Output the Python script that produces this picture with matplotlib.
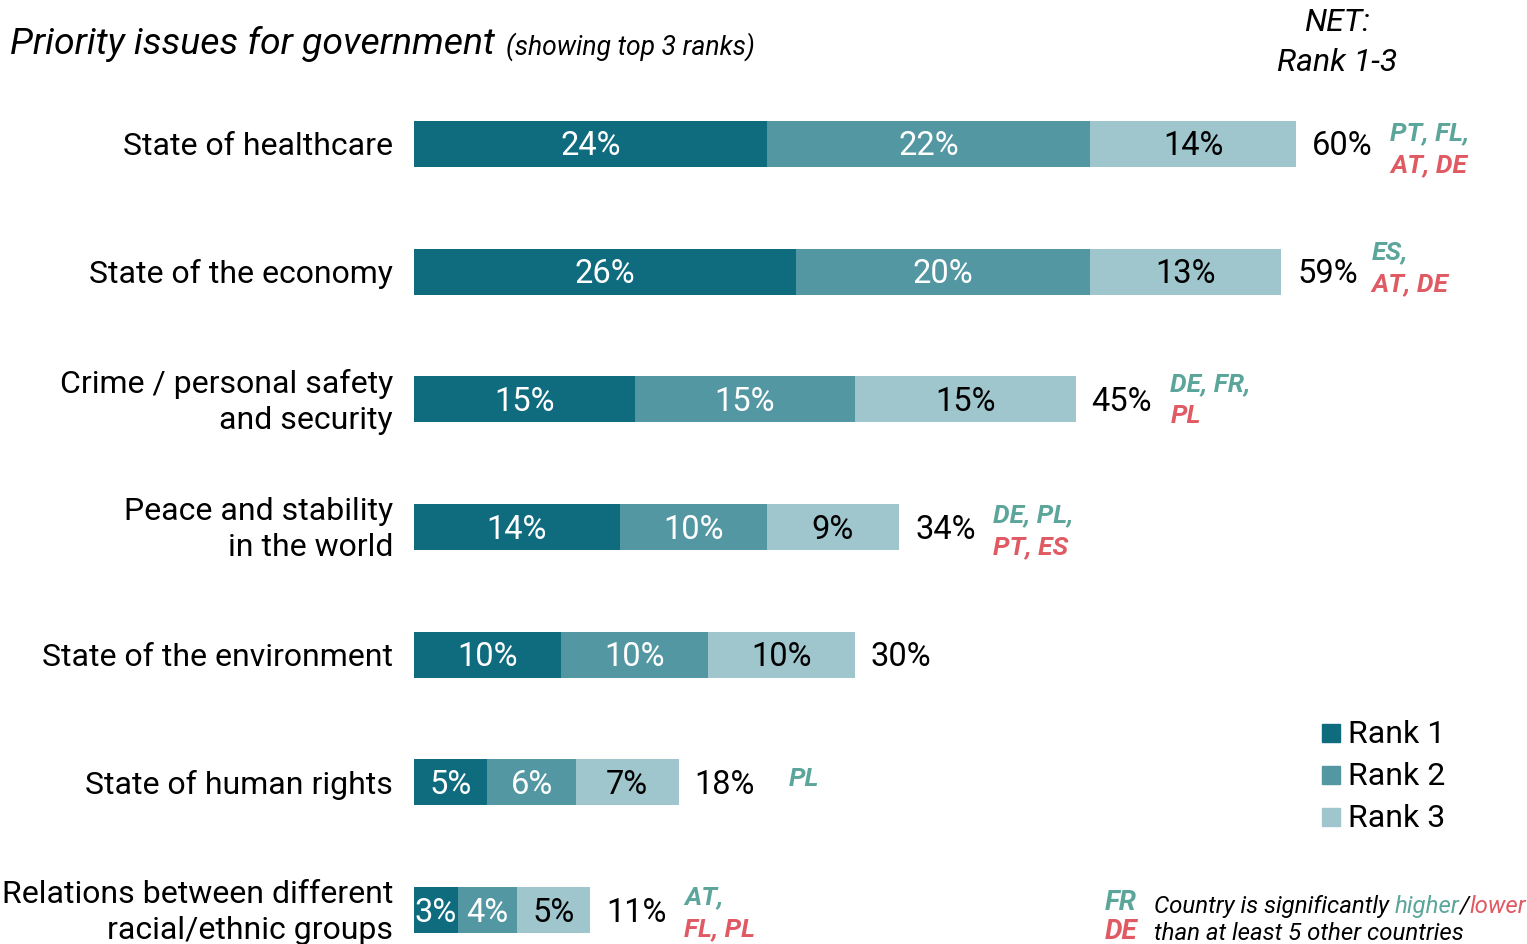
import matplotlib
matplotlib.use("Agg")
import matplotlib.pyplot as plt
from matplotlib.patches import Rectangle

categories = [
    "State of healthcare",
    "State of the economy",
    "Crime / personal safety\nand security",
    "Peace and stability\nin the world",
    "State of the environment",
    "State of human rights",
    "Relations between different\nracial/ethnic groups",
]
rank1 = [24, 26, 15, 14, 10, 5, 3]
rank2 = [22, 20, 15, 10, 10, 6, 4]
rank3 = [14, 13, 15, 9, 10, 7, 5]
net = [60, 59, 45, 34, 30, 18, 11]
higher = ["PT, FL,", "ES,", "DE, FR,", "DE, PL,", "", "PL", "AT,"]
lower = ["AT, DE", "AT, DE", "PL", "PT, ES", "", "", "FL, PL"]
series_names = ["Rank 1", "Rank 2", "Rank 3"]

# layout tweaks for the significance notes (pixels): vertical shift of first line, x gap
NOTE_DY = [-13, -22, -18, -14, 0, -6, -15]
NOTE_DX = [94, 90, 95, 94, 94, 110, 94]

C1, C2, C3 = "#0f6b7e", "#5397a3", "#9fc5cd"
GREEN, RED = "#5ba59a", "#e05a63"
FONT = "Roboto"

W, H = 1527, 944
YOFF = 2.5
fig = plt.figure(figsize=(W / 100, H / 100), dpi=100)
ax = fig.add_axes([0, 0, 1, 1])
ax.axis("off")

PX = 14.7          # pixels per percent
X0 = 414           # pixel of 0%
ROW0, ROWSTEP = 144, 127.67
ax.set_xlim(-X0 / PX, (W - X0) / PX)
ax.set_ylim((H - ROW0) / ROWSTEP, -ROW0 / ROWSTEP)

def px2x(p):
    return (p - X0) / PX

ty = YOFF / ROWSTEP
ys = list(range(len(categories)))
bh = 46 / ROWSTEP
lefts = [0] * len(ys)
for vals, col, tcol in [(rank1, C1, "white"), (rank2, C2, "white"), (rank3, C3, "black")]:
    ax.barh(ys, vals, left=lefts, height=bh, color=col, edgecolor="none")
    for y, l, v in zip(ys, lefts, vals):
        ax.text(l + v / 2, y + ty, f"{v}%", ha="center", va="center", color=tcol,
                fontsize=23.5, family=FONT)
    lefts = [l + v for l, v in zip(lefts, vals)]

for i, (y, end, n, hi, lo, cat) in enumerate(zip(ys, lefts, net, higher, lower, categories)):
    ax.text(end + 16 / PX, y + ty, f"{n}%", ha="left", va="center", fontsize=23.5,
            family=FONT, color="black")
    ax.text(px2x(393), y + ty, cat, ha="right", va="center", fontsize=23,
            family=FONT, color="black", linespacing=1.29)
    dx = NOTE_DX[i] / PX
    dy = NOTE_DY[i] / ROWSTEP
    if hi:
        ax.text(end + dx, y + dy + ty, hi, ha="left", va="center", fontsize=19,
                family=FONT, style="italic", weight="bold", color=GREEN)
    if lo:
        ax.text(end + dx, y + dy + 32 / ROWSTEP + ty, lo, ha="left", va="center",
                fontsize=19, family=FONT, style="italic", weight="bold", color=RED)

fig.canvas.draw()
r = fig.canvas.get_renderer()

def fit(txt, width_px):
    w = txt.get_window_extent(r).width
    txt.set_fontsize(txt.get_fontsize() * width_px / w)

def fy(p):
    return 1 - (p + YOFF) / H

# Title
tt = fig.text(10 / W, fy(41), "Priority issues for government", ha="left", va="center",
              fontsize=25, family=FONT, style="italic")
fit(tt, 485)
ts = fig.text(506 / W, fy(44), "(showing top 3 ranks)", ha="left", va="center",
              fontsize=18, family=FONT, style="italic")
fit(ts, 249)

# NET header
fig.text(1337 / W, fy(20), "NET:", ha="center", va="center", fontsize=23,
         family=FONT, style="italic")
fig.text(1337 / W, fy(60), "Rank 1-3", ha="center", va="center", fontsize=23,
         family=FONT, style="italic")

# Legend
for i, (name, col) in enumerate(zip(series_names, [C1, C2, C3])):
    yc = 733 + i * 42
    fig.patches.append(Rectangle((1322 / W, 1 - (yc + 9) / H), 18 / W, 18 / H,
                                 transform=fig.transFigure, color=col))
    fig.text(1348 / W, fy(yc - 1), name, ha="left", va="center", fontsize=23, family=FONT)

# Footnote
fig.text(1105 / W, fy(900), "FR", ha="left", va="center", fontsize=20,
         family=FONT, style="italic", weight="bold", color=GREEN)
fig.text(1105 / W, fy(929), "DE", ha="left", va="center", fontsize=20,
         family=FONT, style="italic", weight="bold", color=RED)
t1 = fig.text(1154 / W, fy(904), "Country is significantly ", ha="left", va="center",
              fontsize=17.3, family=FONT, style="italic")
bb = t1.get_window_extent(r)
t2 = fig.text(bb.x1 / W, fy(904), "higher", ha="left", va="center", fontsize=17.3,
              family=FONT, style="italic", color=GREEN)
bb = t2.get_window_extent(r)
t3 = fig.text(bb.x1 / W, fy(904), "/", ha="left", va="center", fontsize=17.3,
              family=FONT, style="italic")
bb = t3.get_window_extent(r)
fig.text(bb.x1 / W, fy(904), "lower", ha="left", va="center", fontsize=17.3,
         family=FONT, style="italic", color=RED)
fig.text(1154 / W, fy(931), "than at least 5 other countries", ha="left", va="center",
         fontsize=17.3, family=FONT, style="italic")

fig.savefig("out.png", dpi=100)
